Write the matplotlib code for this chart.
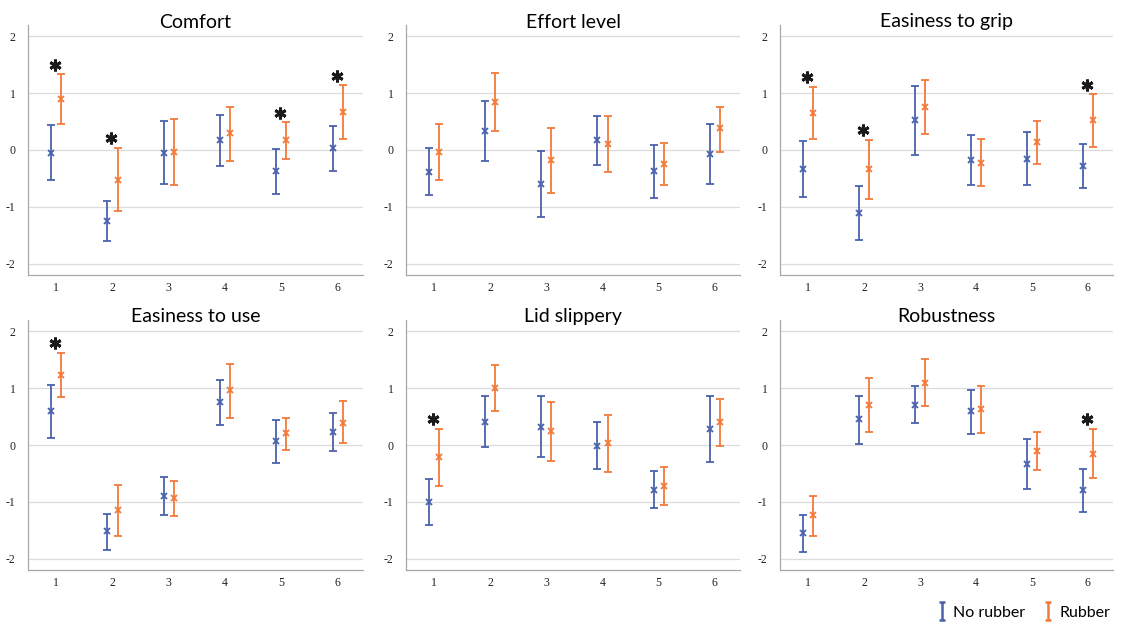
import matplotlib
matplotlib.use("Agg")
from matplotlib import pyplot as plt
from matplotlib.lines import Line2D
from matplotlib.path import Path
import numpy as np

titles = ["Comfort", "Effort level", "Easiness to grip",
          "Easiness to use", "Lid slippery", "Robustness"]
items = [1, 2, 3, 4, 5, 6]

# mean, upper CI, lower CI for each panel
no_mean = [
    [-0.05, -1.25, -0.05, 0.17, -0.37, 0.04],
    [-0.38, 0.34, -0.59, 0.17, -0.37, -0.07],
    [-0.33, -1.11, 0.52, -0.18, -0.15, -0.28],
    [0.59, -1.52, -0.90, 0.75, 0.07, 0.23],
    [-1.00, 0.41, 0.32, -0.01, -0.79, 0.28],
    [-1.55, 0.45, 0.71, 0.59, -0.34, -0.80],
]
no_hi = [
    [0.44, -0.89, 0.51, 0.62, 0.02, 0.43],
    [0.04, 0.87, -0.02, 0.60, 0.09, 0.46],
    [0.15, -0.63, 1.13, 0.26, 0.31, 0.10],
    [1.05, -1.21, -0.57, 1.14, 0.44, 0.57],
    [-0.60, 0.86, 0.87, 0.41, -0.45, 0.86],
    [-1.24, 0.87, 1.03, 0.97, 0.10, -0.42],
]
no_lo = [
    [-0.53, -1.60, -0.59, -0.28, -0.77, -0.37],
    [-0.79, -0.19, -1.18, -0.26, -0.84, -0.60],
    [-0.83, -1.59, -0.09, -0.61, -0.61, -0.66],
    [0.12, -1.85, -1.23, 0.36, -0.31, -0.11],
    [-1.41, -0.04, -0.21, -0.42, -1.11, -0.30],
    [-1.88, 0.02, 0.38, 0.20, -0.77, -1.18],
]
rub_mean = [
    [0.89, -0.52, -0.04, 0.30, 0.17, 0.67],
    [-0.04, 0.85, -0.18, 0.11, -0.25, 0.38],
    [0.65, -0.33, 0.76, -0.23, 0.14, 0.52],
    [1.24, -1.15, -0.94, 0.96, 0.21, 0.39],
    [-0.21, 1.00, 0.24, 0.04, -0.73, 0.40],
    [-1.23, 0.71, 1.10, 0.63, -0.11, -0.15],
]
rub_hi = [
    [1.33, 0.04, 0.55, 0.76, 0.49, 1.14],
    [0.45, 1.36, 0.39, 0.59, 0.13, 0.76],
    [1.11, 0.18, 1.24, 0.19, 0.51, 0.98],
    [1.62, -0.70, -0.64, 1.43, 0.47, 0.77],
    [0.29, 1.40, 0.76, 0.53, -0.39, 0.81],
    [-0.89, 1.18, 1.52, 1.04, 0.23, 0.28],
]
rub_lo = [
    [0.46, -1.08, -0.62, -0.19, -0.15, 0.19],
    [-0.52, 0.34, -0.75, -0.38, -0.62, -0.03],
    [0.20, -0.86, 0.28, -0.64, -0.24, 0.05],
    [0.85, -1.61, -1.25, 0.48, -0.08, 0.04],
    [-0.72, 0.59, -0.29, -0.47, -1.06, -0.01],
    [-1.60, 0.23, 0.69, 0.22, -0.44, -0.58],
]
# items with a significant difference
stars = [[1, 2, 5, 6], [], [1, 2, 6], [1], [1], [6]]

blue = "#4a62ad"
orange = "#f27a3a"

fig = plt.figure(figsize=(11.21, 6.23), dpi=100)

lefts = [28, 406, 780]
widths = [335, 334, 333]
tops = [25, 320]
H = 250

for k in range(6):
    r, c = divmod(k, 3)
    ax = fig.add_axes([lefts[c] / 1121, 1 - (tops[r] + H) / 623,
                       widths[c] / 1121, H / 623])
    x = np.array(items)
    for xs, m, hi, lo, col in [(x - 0.09, no_mean[k], no_hi[k], no_lo[k], blue),
                               (x + 0.09, rub_mean[k], rub_hi[k], rub_lo[k], orange)]:
        m = np.array(m)
        err = [m - np.array(lo), np.array(hi) - m]
        ax.errorbar(xs, m, yerr=err, fmt="x", color=col, ms=4, mew=1.3,
                    elinewidth=1.3, capsize=3, capthick=1.3, zorder=3)
    for s in stars[k]:
        top = rub_hi[k][s - 1]
        ax.plot(s - 0.02, top + 0.17, marker=(6, 2, 0), ms=8.5, mew=2.1,
                color="#1a1a1a", zorder=4)
    ax.set_xlim(0.5, 6.45)
    ax.set_ylim(-2.2, 2.2)
    ax.set_xticks(items)
    ax.set_yticks([-2, -1, 0, 1, 2])
    ax.set_yticklabels(["-2", "-1", "0", "1", "2"])
    ax.tick_params(length=0, labelsize=8.5, colors="#222222")
    ax.tick_params(axis="y", pad=9)
    ax.tick_params(axis="x", pad=5)
    for lab in ax.get_xticklabels() + ax.get_yticklabels():
        lab.set_fontfamily("Liberation Serif")
    ax.grid(axis="y", color="#dcdcdc", lw=0.9)
    ax.set_axisbelow(True)
    for sp in ["top", "right"]:
        ax.spines[sp].set_visible(False)
    for sp in ["left", "bottom"]:
        ax.spines[sp].set_color("#a8a8a8")
        ax.spines[sp].set_linewidth(0.9)
    ax.set_title(titles[k], fontsize=14, family="Lato", y=0.99, pad=0)

ibeam = Path([(-0.35, 1), (0.35, 1), (0, 1), (0, -1), (-0.35, -1), (0.35, -1)],
             [Path.MOVETO, Path.LINETO, Path.MOVETO, Path.LINETO,
              Path.MOVETO, Path.LINETO])
handles = [Line2D([], [], ls="none", marker=ibeam, ms=13, mew=1.8, color=blue),
           Line2D([], [], ls="none", marker=ibeam, ms=13, mew=1.8, color=orange)]
fig.legend(handles, ["No rubber", "Rubber"], loc="lower right",
           bbox_to_anchor=(1.003, -0.018), ncol=2, frameon=False,
           prop={"family": "Lato", "size": 11.5}, handlelength=0.6,
           handletextpad=0.4, columnspacing=1.1)

fig.savefig("out.png", dpi=100)
